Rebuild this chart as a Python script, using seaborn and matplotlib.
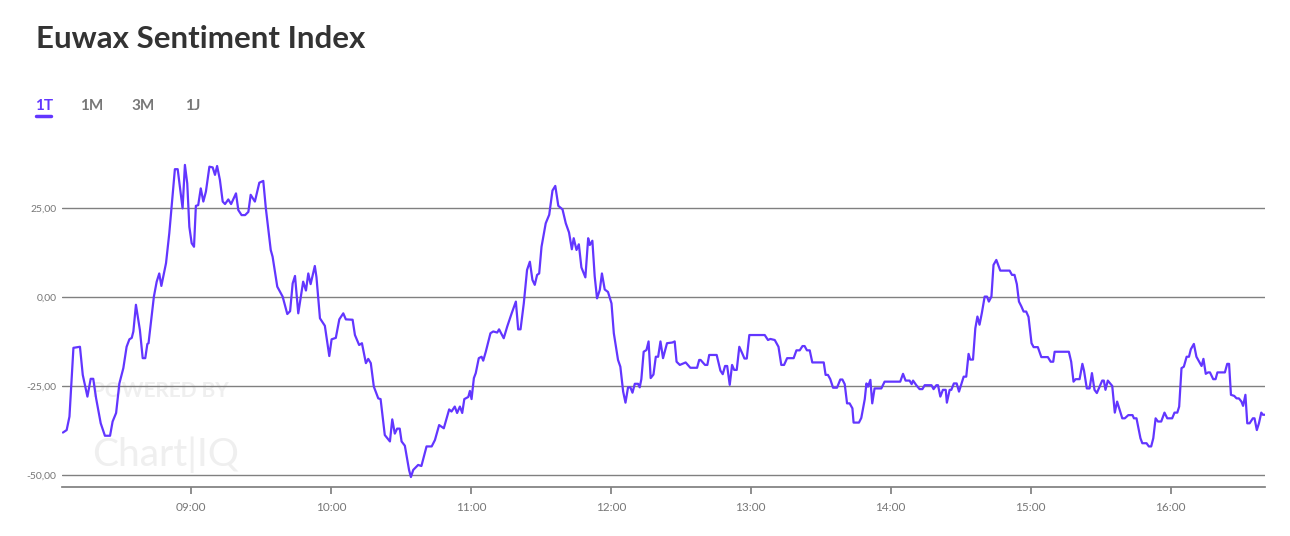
import matplotlib
matplotlib.use("Agg")
import matplotlib.pyplot as plt
import seaborn as sns
import pandas as pd

minutes = [5.1,6.7,7.9,9.6,12.4,13.6,15.6,17,18.1,19.3,21.3,23.1,25.3,26.4,27.9,29.3,31,32.4,33.6,34.6,35.3,36.4,38.1,39.3,40.4,41.3,41.8,44.1,45.3,46.4,47.3,49.3,50.7,51.7,53.1,54.3,56.4,57.4,58.4,59.3,60.3,61.3,62.1,63.1,64.2,65.3,66.4,67.9,69.3,70.3,71.2,72.4,73.6,74.6,76,77.2,79.3,80.3,81.7,83.2,84.6,85.6,87.4,89.3,91,92.1,94.2,95,97,99.3,101.3,102.5,103.6,104.6,106,108.1,109.3,110.3,111.3,113.1,113.8,115.3,117.4,119.3,120.3,122.1,123.6,125.3,126.4,129.3,130.3,132.1,133.3,135,136,137.1,138.4,140.3,141.3,143.1,145.3,146.3,147.4,148.4,149.5,150.3,151.7,153.5,154.3,155.3,157.4,
158.8,161,163.2,164.6,166.4,168.4,170.7,171.7,173.1,174.1,175.3,176.3,177.2,178.9,179.6,180.3,181.3,182.1,183.4,184.6,185.3,186.4,188.4,189.6,191.3,192.1,194.1,195.6,197.5,199.3,200.3,201.3,202.7,204.1,205.3,206.4,207.4,208.4,209.3,210.3,212.1,213.6,215,216.2,217.5,219.3,220.7,222.1,223.3,224.1,225.3,226.3,227.4,229.1,230.3,231,232.1,233.1,234.1,235.3,236.2,237.4,238.8,240.3,241.3,243.1,244.1,245.3,246.3,247.4,248.4,249.3,250.3,251.7,252.4,253.1,254.1,255.3,256.2,257.1,258.3,259.3,260.3,261.3,262.4,264.1,266.4,267.4,268.2,269.6,272.1,274.1,277,277.9,
278.5,280.4,281.4,282.2,285.4,287,288,289,289.9,291,292,292.9,294,295.1,296.4,297.3,298.3,299.4,306,307.4,308.4,310.3,311.9,313.1,314.3,315.6,318.4,319.6,321,322.2,323.1,324.1,325.3,326.4,331.3,332.1,333.1,334.1,335.3,337,338.4,339.3,340.3,341.3,342.4,343.6,344.1,346.4,347.4,348.9,349.6,350.3,351.3,352.1,353.1,356,357.4,364.1,365.3,366.4,368.1,369,369.6,371,372.4,373.6,374.6,377.5,378.4,379.6,380.3,381.3,382.4,383.6,384.1,385.3,386,387.1,388.3,389.3,391.3,392.4,393.4,394.1,395.3,396.3,397.2,398.1,399.1,400.3,401.3,402.1,
403.2,404.1,405.3,407,411,412,413.1,414.1,415,416,417,418.1,419.1,420.4,421.3,423.1,424.6,427.4,428.6,429.7,430.3,436.4,437.4,438.4,439.3,441,442.2,442.9,444.1,445.3,446.3,447.4,448.4,449.6,450.7,451.4,452.1,453.1,455,456.1,457.1,459.3,460.4,461.9,463.7,464.3,465.4,467.1,467.9,469.7,470.7,471.7,472.6,473.6,474.6,476,477.4,478.6,480.7,481.7,482.9,483.7,484.7,485.7,486.9,487.9,488.7,490,491.1,492.3,493.3,494.1,495.1,496.1,496.9,498.3,499.3,500.1,503.3,504.3,505.1,505.9,507.3,508.3,509.3,510.4,511.1,512.1,512.9,513.9,515.3,516,517,517.9,518.9,519.6,521.1]

values = [-38.1,-37.4,-33.6,-14.3,-14.0,-21.9,-28,-23,-23,-28.4,-35.5,-39,-39,-35,-32.6,-24.3,-20,-14,-11.9,-11.5,-9.7,-2.2,-9.3,-17.2,-17.2,-13.2,-13,0.1,4.3,6.6,3.1,9.5,17.9,25.4,35.9,35.9,24.9,37.1,31.9,19.7,15.1,14.1,25.6,25.8,30.5,26.8,29.6,36.6,36.4,34.3,36.8,32.9,26.8,26.1,27.4,26.1,29.1,24.4,23,23,23.9,28.7,26.8,32.1,32.6,24.9,13.2,11.3,2.9,0.1,-4.8,-4,3.8,5.9,-4.6,4.3,1.8,6.6,3.6,8.7,5.6,-6,-8.1,-16.6,-11.9,-11.5,-6.3,-4.6,-6.3,-6.4,-10.7,-13.5,-13,-18.6,-17.4,-18.6,-25.2,-28.5,-28.7,-38.8,-40.6,-34.4,-38.4,-37,-37,-40.6,-41.8,-48.6,-50.6,-48.6,-47.2,
-47.5,-42,-42,-40.2,-36,-36.9,-31.6,-32.2,-30.8,-32.6,-30.8,-32.6,-28.7,-28.1,-26.4,-28.7,-22.8,-21.4,-17.2,-16.8,-17.9,-15.4,-10.2,-9.7,-10,-9.1,-11.6,-8.3,-4.6,-1.3,-9.1,-9.1,-1.8,7.6,9.9,4.8,3.4,6.2,6.6,14.1,20.7,23.1,29.9,31.2,25.6,24.6,20.7,18.1,13.4,16.5,13.2,14.8,8.3,5.5,16.5,14.6,15.8,5.8,-0.4,2,6.6,2.1,1.4,-1.8,-10.2,-17.7,-19.6,-26.6,-29.7,-25.4,-25.4,-26.9,-24.4,-24.4,-25.4,-23.1,-15.4,-14.9,-12.5,-22.8,-21.8,-16.8,-16.8,-12.5,-17.2,-13,-12.8,-12.5,-18.2,-19.1,-18.4,-19.9,-19.9,-17.7,
-17.7,-19.1,-19.1,-16.3,-16.3,-20.7,-21.7,-19.4,-19.4,-24.7,-19.1,-20.5,-20.5,-14,-15.9,-17.3,-17.3,-10.7,-10.7,-12.1,-11.8,-12.1,-14,-19.1,-19.1,-17.2,-17.2,-15,-15,-13.8,-13.8,-15,-15,-18.4,-18.4,-21.9,-21.9,-23.1,-25.5,-25.5,-23.2,-23.2,-24.5,-29.9,-29.9,-31.3,-35.3,-35.3,-34,-28.7,-24.3,-25.2,-23.3,-29.9,-25.7,-25.7,-23.8,-23.8,-21.6,-23.5,-23.5,-24.5,-23.5,-24.8,-25.9,-25.9,-24.8,-24.8,-25.9,-24.8,-24.8,-28,-26.1,-26.1,-29.7,-26.1,-26.1,-24.3,-24.3,-26.6,-22.4,-22.4,-16,-17.6,-17.6,-8.8,-5.5,-7.8,-4.5,0.1,0.1,-1.3,
0.1,9,10.4,7.4,7.4,6.2,6.2,3.6,-1.3,-2.6,-4.1,-4.1,-5.6,-13,-14.1,-14.1,-16.9,-16.9,-18.2,-18.2,-15.4,-15.4,-18.2,-23.8,-23.1,-23.1,-18.8,-20.7,-25.7,-25.7,-21.4,-26.1,-27,-25.2,-23.5,-23.5,-26.1,-23.5,-25,-32.5,-29.4,-34.1,-34.1,-33.2,-33.2,-34.1,-34.1,-39.7,-41.1,-41.1,-42,-42,-39.7,-34.1,-35,-35,-32.5,-34.1,-34.1,-32.5,-32.5,-30.8,-20,-19.6,-16.8,-16.8,-14.7,-13.2,-16.8,-18.2,-19.4,-17.4,-21.6,-21.2,-21.2,-23.1,-23.1,-21.2,-21.2,-18.8,-18.8,-27.5,-27.8,-28.5,-28.5,-29.4,-30.6,-27.5,-35.5,-35.5,-34.1,-34.1,-37.4,-35.5,-32.5,-33.1,-33.1]

y_ticks = [-50, -25, 0, 25]
y_labels = ["-50,00", "-25,00", "0,00", "25,00"]
x_ticks = [60, 120, 180, 240, 300, 360, 420, 480]
x_labels = ["09:00", "10:00", "11:00", "12:00", "13:00", "14:00", "15:00", "16:00"]
tabs = ["1T", "1M", "3M", "1J"]

df = pd.DataFrame({"m": minutes, "v": values})

sns.set_theme(style="white")
plt.rcParams['font.family'] = ['Lato', 'DejaVu Sans']

fig = plt.figure(figsize=(12.9, 5.36), dpi=100)
ax = fig.add_axes([62/1290, 49/536, 1203/1290, (487-140)/536])

# watermark
ax.text(0.025, 0.26, "POWERED BY", transform=ax.transAxes, fontsize=15, color="#efefef",
        fontweight="bold", zorder=0)
ax.text(0.025, 0.06, "Chart|IQ", transform=ax.transAxes, fontsize=28, color="#efefef", zorder=0)

sns.lineplot(data=df, x="m", y="v", ax=ax, color="#6236ff", linewidth=1.6,
             estimator=None, sort=False, zorder=3)

ax.set_xlim(4.7, 520.5)
ax.set_ylim(-53.4, 44.1)
ax.set_yticks(y_ticks)
ax.set_yticklabels(y_labels)
ax.set_xticks(x_ticks)
ax.set_xticklabels(x_labels)
ax.grid(axis="y", color="#808080", linewidth=1)
ax.grid(axis="x", visible=False)
for s in ["top", "right", "left"]:
    ax.spines[s].set_visible(False)
ax.spines["bottom"].set_color("#808080")
ax.tick_params(axis="y", length=0, labelsize=7.5, labelcolor="#777777", pad=4)
ax.tick_params(axis="x", bottom=True, length=5, color="#808080", labelsize=8.5,
               labelcolor="#777777", pad=6)
ax.set_xlabel("")
ax.set_ylabel("")

fig.text(36/1290, 1 - 48/536, "Euwax Sentiment Index", fontsize=22.5, fontweight="bold",
         color="#333333")
tab_x = [35, 80, 131, 185]
for i, (t, xp) in enumerate(zip(tabs, tab_x)):
    fig.text(xp/1290, 1 - 110/536, t, fontsize=11, fontweight="bold",
             color="#6236ff" if i == 0 else "#777777")
fig.add_artist(plt.Line2D([36/1290, 51/1290], [1 - 116/536, 1 - 116/536], color="#6236ff", linewidth=2.5))

fig.savefig("out.png", dpi=100)
